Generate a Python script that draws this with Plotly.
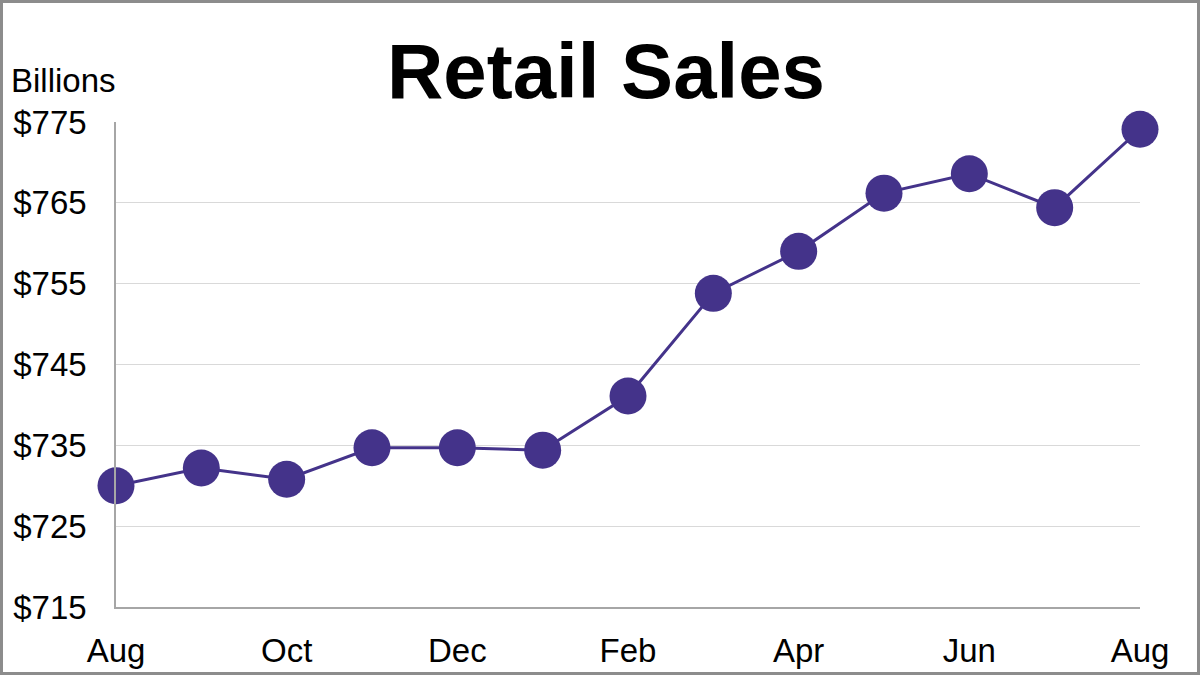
import plotly.graph_objects as go

# ==========================
# DATA
# ==========================

months = ["Aug", "Sep", "Oct", "Nov", "Dec", "Jan", "Feb",
          "Mar", "Apr", "May", "Jun", "Jul", "Aug "]
sales = [730.0, 732.2, 730.8, 734.7, 734.7, 734.4, 741.1,
         753.8, 759.0, 766.2, 768.6, 764.4, 774.1]

tick_months = ["Aug", "Oct", "Dec", "Feb", "Apr", "Jun", "Aug "]
tick_month_labels = ["Aug", "Oct", "Dec", "Feb", "Apr", "Jun", "Aug"]
y_ticks = [715, 725, 735, 745, 755, 765, 775]

# ==========================
# LAYOUT GEOMETRY (pixels)
# ==========================

W, H = 1200, 675
ML, MR, MT, MB = 116, 60, 122, 68
PW = W - ML - MR
PH = H - MT - MB

FONT = "Liberation Sans, Arial, sans-serif"
PURPLE = "#44338a"

fig = go.Figure()

fig.add_trace(go.Scatter(
    x=months,
    y=sales,
    mode="lines+markers",
    line=dict(color=PURPLE, width=3),
    marker=dict(color=PURPLE, size=37),
    cliponaxis=False,
    hoverinfo="x+y",
))

fig.update_layout(
    width=W,
    height=H,
    autosize=False,
    paper_bgcolor="white",
    plot_bgcolor="white",
    showlegend=False,
    margin=dict(l=ML, r=MR, t=MT, b=MB, autoexpand=False),
    font=dict(family=FONT, color="black", size=33),
    title=dict(
        text="<b>Retail Sales</b>",
        font=dict(family=FONT, size=78, color="black"),
        x=606 / W,
        xanchor="center",
        y=1 - 71 / H,
        yanchor="middle",
    ),
    xaxis=dict(
        type="category",
        categoryorder="array",
        categoryarray=months,
        range=[0, len(months) - 1],
        tickmode="array",
        tickvals=tick_months,
        ticktext=tick_month_labels,
        showgrid=False,
        showline=True,
        linecolor="#a6a6a6",
        linewidth=1.5,
        ticks="",
        ticklabelstandoff=14,
        tickfont=dict(size=33),
        zeroline=False,
        automargin=False,
    ),
    yaxis=dict(
        range=[715, 775],
        tickmode="array",
        tickvals=y_ticks,
        ticktext=[f"${v}" for v in y_ticks],
        showgrid=True,
        gridcolor="#d9d9d9",
        gridwidth=1,
        showline=True,
        linecolor="#a6a6a6",
        linewidth=1.5,
        ticks="",
        ticklabelstandoff=21,
        tickfont=dict(size=33),
        zeroline=False,
        automargin=False,
    ),
)

# unit label above the y axis
fig.add_annotation(
    text="Billions",
    xref="paper", yref="paper",
    x=-(ML - 9) / PW, y=1 + (MT - 80) / PH,
    xanchor="left", yanchor="middle",
    showarrow=False,
    font=dict(family=FONT, size=33, color="black"),
)

# grey frame around the whole picture
fig.add_shape(
    type="rect",
    xref="paper", yref="paper",
    x0=-(ML - 1.5) / PW, x1=(W - ML - 1.5) / PW,
    y0=-(MB - 1.5) / PH, y1=(H - MB - 1.5) / PH,
    line=dict(color="#8c8c8c", width=3),
    fillcolor="rgba(0,0,0,0)",
    layer="above",
)

# page has a default body margin; drop it so the figure fills the window
fig.write_html(
    "out.html",
    config={"displayModeBar": False},
    post_script="document.body.style.margin='0';",
)
